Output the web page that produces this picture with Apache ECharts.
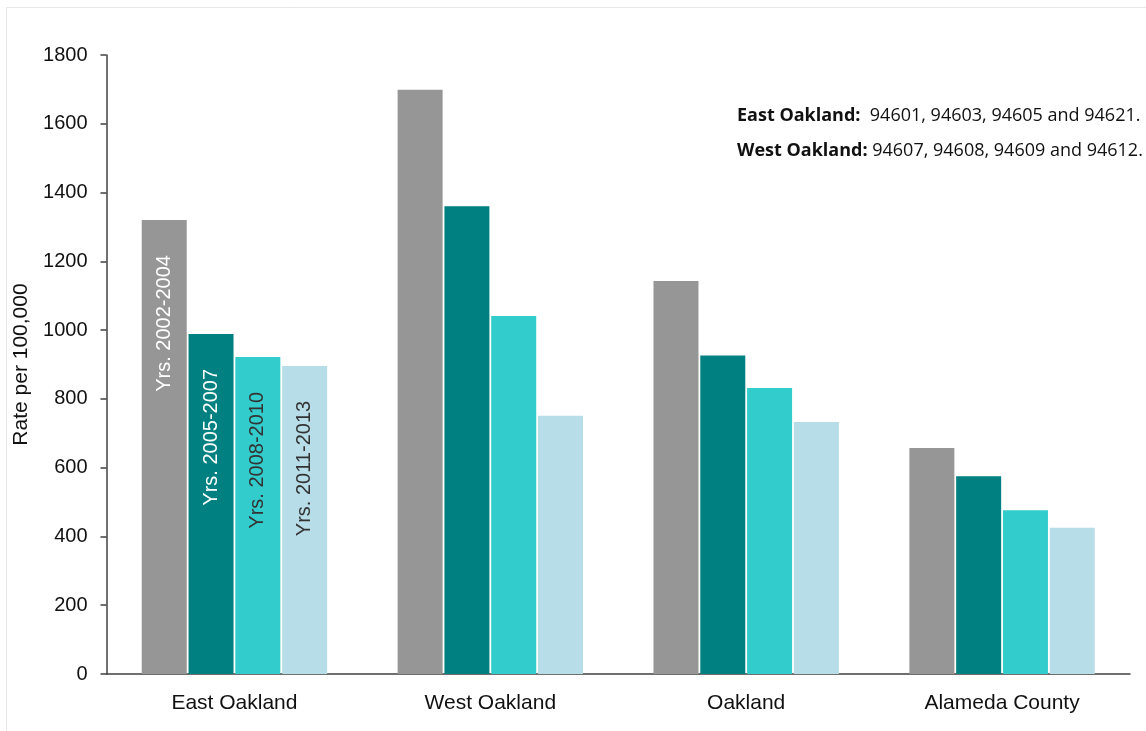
<!DOCTYPE html>
<html>
<head>
<meta charset="utf-8">
<script src="https://cdn.jsdelivr.net/npm/echarts@6/dist/echarts.min.js"></script>
<style>
html,body{margin:0;padding:0;background:#fff;}
#chart{width:1146px;height:731px;}
</style>
</head>
<body>
<div id="chart"></div>
<script>
const categories = ['East Oakland', 'West Oakland', 'Oakland', 'Alameda County'];
const seriesNames = ['Yrs. 2002-2004', 'Yrs. 2005-2007', 'Yrs. 2008-2010', 'Yrs. 2011-2013'];
const yrs2002_2004 = [1320, 1699, 1143, 657];
const yrs2005_2007 = [989, 1360, 926, 575];
const yrs2008_2010 = [922, 1041, 832, 476];
const yrs2011_2013 = [896, 751, 733, 425];
const yTicks = [0, 200, 400, 600, 800, 1000, 1200, 1400, 1600, 1800];

const colors = ['#969696', '#008080', '#33CCCC', '#B7DDE8'];
const labelColors = ['#ffffff', '#ffffff', '#333333', '#333333'];
const allValues = [yrs2002_2004, yrs2005_2007, yrs2008_2010, yrs2011_2013];
const FONT = 'Liberation Sans, Arial, sans-serif';

const chart = echarts.init(document.getElementById('chart'));
const series = allValues.map((vals, s) => ({
  name: seriesNames[s],
  type: 'bar',
  barWidth: 45,
  barGap: '4%',
  itemStyle: { color: colors[s] },
  data: vals.map((v, i) => i === 0 ? {
    value: v,
    label: {
      show: true,
      formatter: '{a}',
      position: 'insideTop',
      distance: 35,
      rotate: 90,
      align: 'right',
      verticalAlign: 'middle',
      color: labelColors[s],
      fontFamily: FONT,
      fontSize: 20
    }
  } : v)
}));

chart.setOption({
  animation: false,
  backgroundColor: '#ffffff',
  grid: { left: 106.5, right: 16, top: 55, bottom: 57, containLabel: false },
  xAxis: {
    type: 'category',
    data: categories,
    axisLine: { show: true, lineStyle: { color: '#404040', width: 1.5 } },
    axisTick: { show: false },
    axisLabel: { margin: 19, color: '#111', fontSize: 21, fontFamily: FONT }
  },
  yAxis: {
    type: 'value',
    min: yTicks[0],
    max: yTicks[yTicks.length - 1],
    interval: 200,
    name: 'Rate per 100,000',
    nameLocation: 'middle',
    nameGap: 72,
    nameTextStyle: { color: '#111', fontSize: 21, fontFamily: FONT },
    axisLine: { show: true, lineStyle: { color: '#404040', width: 1.5 } },
    axisTick: { show: true, length: 6, lineStyle: { color: '#404040', width: 1.5 } },
    splitLine: { show: false },
    axisLabel: {
      margin: 19, color: '#111', fontSize: 20, fontFamily: FONT,
      formatter: v => String(v)
    }
  },
  graphic: [
    {
      type: 'rect',
      shape: { x: 6.5, y: 7.5, width: 1160, height: 760 },
      style: { fill: 'none', stroke: '#e6e6e6', lineWidth: 1 },
      silent: true
    },
    {
      type: 'text',
      left: 737,
      top: 107,
      style: {
        text: '{b|East Oakland:}  94601, 94603, 94605 and 94621.',
        rich: { b: { fontWeight: 'bold', fontSize: 18, fontFamily: 'Open Sans, sans-serif', fill: '#111' } },
        fontSize: 18,
        fontFamily: 'Open Sans, sans-serif',
        fill: '#111'
      }
    },
    {
      type: 'text',
      left: 737,
      top: 142,
      style: {
        text: '{b|West Oakland:} 94607, 94608, 94609 and 94612.',
        rich: { b: { fontWeight: 'bold', fontSize: 18, fontFamily: 'Open Sans, sans-serif', fill: '#111' } },
        fontSize: 18,
        fontFamily: 'Open Sans, sans-serif',
        fill: '#111'
      }
    }
  ],
  series: series
});
</script>
</body>
</html>
